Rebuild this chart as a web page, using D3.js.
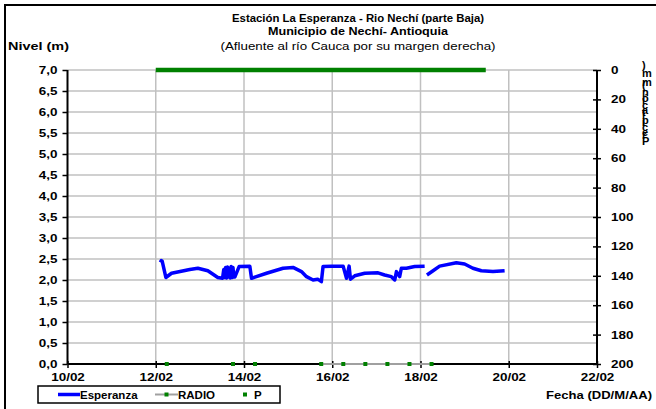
<!DOCTYPE html>
<html><head><meta charset="utf-8">
<script src="https://cdn.jsdelivr.net/npm/d3@7"></script>
<style>
html,body{margin:0;padding:0;background:#fff;}
text{font-family:"Liberation Sans",Arial,sans-serif;}
</style></head>
<body><svg id="c" width="656" height="409"></svg>
<script>
// ---- data ----
const titleLines = ["Estación La Esperanza - Rio Nechí  (parte Baja)", "Municipio de Nechí- Antioquia", "(Afluente al río Cauca por su margen derecha)"];
const leftTicks = [0,0.5,1,1.5,2,2.5,3,3.5,4,4.5,5,5.5,6,6.5,7];
const rightTicks = [0,20,40,60,80,100,120,140,160,180,200];
const xTickDates = ["2014-02-10","2014-02-12","2014-02-14","2014-02-16","2014-02-18","2014-02-20","2014-02-22"];
const seriesNames = ["Esperanza","RADIO","P"];

// Esperanza water level (m); null = gap in record
const espTimes = ["12 02:30","12 03:00","12 03:30","12 05:30","12 08:35","12 18:30","12 22:55","13 04:20","13 09:45","13 12:20",
 "13 13:00","13 13:30","13 14:00","13 14:30","13 15:00","13 15:30","13 16:00","13 16:30","13 17:00","13 17:30","13 18:00","13 18:30",
 "13 19:00","13 21:20","14 03:10","14 04:05","14 05:55","14 12:15","14 21:15","15 02:40","15 07:15","15 10:00","15 13:35","15 16:05",
 "15 18:05","15 19:00","15 23:35","16 05:55","16 07:45","16 09:10","16 09:55","16 12:15","16 17:40","17 00:55","17 04:30","17 08:10",
 "17 10:00","17 10:55","17 12:40","17 13:35","17 16:20","17 20:50","18 02:15","18 03:00",
 "18 03:30","18 06:50","18 10:25","18 19:30","19 00:00","19 04:30","19 09:05","19 15:25","19 21:45"];
const espValues = [2.42,2.46,2.45,2.06,2.16,2.25,2.28,2.22,2.06,2.04,
 2.25,2.06,2.30,2.05,2.31,2.07,2.28,2.05,2.32,2.06,2.30,2.07,
 2.07,2.32,2.33,2.04,2.07,2.16,2.28,2.30,2.20,2.08,2.00,2.02,
 1.96,2.32,2.33,2.33,2.04,2.33,2.02,2.10,2.16,2.17,2.12,2.08,
 2.00,2.20,2.08,2.28,2.28,2.32,2.33,null,
 2.12,2.22,2.33,2.41,2.38,2.28,2.22,2.20,2.22];

// RADIO reports (plotted on level axis)
const radioTimes = ["12 06:00","13 18:00","14 06:00","15 18:00","16 06:00","16 18:00","17 06:00","17 18:00","18 06:00"];
const radioValues = [0,0,0,0,0,0,0,0,0];

// P precipitation (mm), right axis
const pTimes = ["12 00:00","13 00:00","14 00:00","15 00:00","16 00:00","17 00:00","18 00:00","19 00:00","19 11:30"];
const pValues = [0,0,0,0,0,0,0,0,0];

// ---- drawing ----
const parseT = s => d3.timeParse("%Y-%m-%d %H:%M")("2014-02-" + s);
const svg = d3.select("#c");
const M = {l:67.5, r:597, t:70, b:364};
const x = d3.scaleTime().domain([new Date(2014,1,10), new Date(2014,1,22)]).range([M.l, M.r]);
const y = d3.scaleLinear().domain([0,7]).range([M.b, M.t]);
const y2 = d3.scaleLinear().domain([0,200]).range([M.t, M.b]);

function stretch(sel, k){
  sel.each(function(){
    const w = this.getComputedTextLength();
    d3.select(this).attr("textLength", w*k).attr("lengthAdjust","spacingAndGlyphs");
  });
}

// frame
svg.append("path").attr("d","M5,409V5H656").attr("fill","none").attr("stroke","#000").attr("stroke-width",2);

// titles
const tw = ["bold","bold","normal"], ty = [22,35,50], tlen = [252,180,275];
titleLines.forEach((t,i)=>svg.append("text").attr("x",358).attr("y",ty[i]).attr("text-anchor","middle")
  .attr("font-size",11).attr("font-weight",tw[i]).attr("textLength",tlen[i]).attr("lengthAdjust","spacingAndGlyphs").text(t));
svg.append("text").attr("x",8).attr("y",50).attr("font-size",11).attr("font-weight","bold")
  .attr("textLength",61).attr("lengthAdjust","spacingAndGlyphs").text("Nivel (m)");
svg.append("text").attr("x",652).attr("y",399).attr("text-anchor","end").attr("font-size",11).attr("font-weight","bold")
  .attr("textLength",106).attr("lengthAdjust","spacingAndGlyphs").text("Fecha (DD/M/AA)");

// grid
const xDates = xTickDates.map(d=>d3.timeParse("%Y-%m-%d")(d));
svg.append("g").selectAll("line").data(leftTicks.filter(v=>v>0)).join("line")
  .attr("x1",M.l).attr("x2",M.r).attr("y1",d=>y(d)).attr("y2",d=>y(d)).attr("stroke","#c0c0c0").attr("stroke-width",1.5);
svg.append("g").selectAll("line").data(xDates.slice(1,-1)).join("line")
  .attr("x1",d=>x(d)).attr("x2",d=>x(d)).attr("y1",M.t).attr("y2",M.b).attr("stroke","#c0c0c0").attr("stroke-width",1.5);

// axes
const fmt = d => d3.format(".1f")(d).replace(".",",");
const gl = svg.append("g").attr("transform",`translate(${M.l},0)`)
  .call(d3.axisLeft(y).tickValues(leftTicks).tickFormat(fmt).tickSize(5).tickPadding(5));
const gb = svg.append("g").attr("transform",`translate(0,${M.b})`)
  .call(d3.axisBottom(x).tickValues(xDates).tickFormat(d3.timeFormat("%d/%m")).tickSize(4).tickPadding(5));
const gr = svg.append("g").attr("transform",`translate(${M.r},0)`)
  .call(d3.axisRight(y2).tickValues(rightTicks).tickSize(4).tickPadding(10));
gr.selectAll(".tick line").attr("x1",-4);
gb.selectAll(".tick line").attr("y1",-3);
[gl,gb,gr].forEach(g=>{
  g.select(".domain").attr("stroke","#000").attr("stroke-width",2);
  g.selectAll(".tick line").attr("stroke","#000").attr("stroke-width",1.5);
  g.selectAll("text").attr("font-family","Liberation Sans, Arial, sans-serif").attr("font-size",11).attr("font-weight","bold").attr("fill","#000");
  stretch(g.selectAll("text"), 1.22);
});
gl.select(".domain").attr("d",`M0,${M.t}V${M.b}`);
gr.select(".domain").attr("d",`M0,${M.t}V${M.b}`);
gb.select(".domain").attr("d",`M${M.l},0H${M.r}`);

// right axis title: upright glyphs stacked, reading bottom-up
svg.append("text").attr("transform","translate(642,145) rotate(-90)")
  .attr("rotate","90").attr("font-size",11).attr("font-weight","bold")
  .attr("textLength",80).attr("lengthAdjust","spacing")
  .text("Precipitación (mm)");

// P series (right axis)
const pData = pTimes.map((t,i)=>({t:parseT(t),v:pValues[i]}));
svg.append("path").datum(pData).attr("fill","none").attr("stroke","#008000").attr("stroke-width",4.5)
  .attr("d",d3.line().x(d=>x(d.t)).y(d=>y2(d.v)));

// RADIO series
const rData = radioTimes.map((t,i)=>({t:parseT(t),v:radioValues[i]}));
svg.append("path").datum(rData.slice(3)).attr("fill","none").attr("stroke","#a0a0a0").attr("stroke-width",2)
  .attr("d",d3.line().x(d=>x(d.t)).y(d=>y(d.v)));
svg.append("g").selectAll("rect").data(rData).join("rect")
  .attr("x",d=>x(d.t)-2).attr("y",d=>y(d.v)-2).attr("width",4).attr("height",4).attr("fill","#008000");

// Esperanza
const eData = espTimes.map((t,i)=>({t:parseT(t),v:espValues[i]}));
svg.append("path").datum(eData).attr("fill","none").attr("stroke","#0000ff").attr("stroke-width",3.5)
  .attr("stroke-linejoin","round")
  .attr("d",d3.line().defined(d=>d.v!==null).x(d=>x(d.t)).y(d=>y(d.v)));

// legend
const lg = svg.append("g");
lg.append("rect").attr("x",38).attr("y",386).attr("width",242).attr("height",17).attr("fill","#fff").attr("stroke","#000").attr("stroke-width",1.5);
lg.append("line").attr("x1",58).attr("x2",80).attr("y1",394.5).attr("y2",394.5).attr("stroke","#0000ff").attr("stroke-width",3.5);
lg.append("text").attr("x",80).attr("y",398.5).attr("font-size",10).attr("font-weight","bold").text(seriesNames[0]);
lg.append("line").attr("x1",155).attr("x2",178).attr("y1",394.5).attr("y2",394.5).attr("stroke","#a0a0a0").attr("stroke-width",2);
lg.append("rect").attr("x",164.5).attr("y",392.5).attr("width",4).attr("height",4).attr("fill","#008000");
lg.append("text").attr("x",178).attr("y",398.5).attr("font-size",10).attr("font-weight","bold").text(seriesNames[1]);
lg.append("rect").attr("x",243).attr("y",392.5).attr("width",4).attr("height",4).attr("fill","#008000");
lg.append("text").attr("x",254).attr("y",398.5).attr("font-size",10).attr("font-weight","bold").text(seriesNames[2]);
stretch(lg.selectAll("text"), 1.15);
</script></body></html>
